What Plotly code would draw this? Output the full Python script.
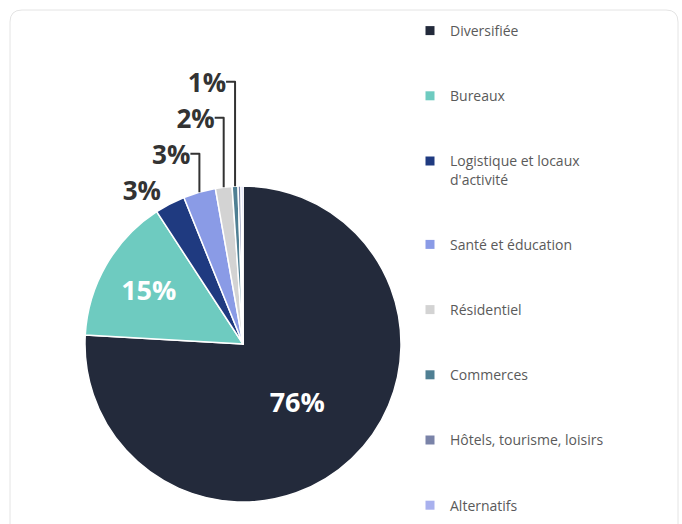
import plotly.graph_objects as go

# ---- data ----
categories = [
    "Diversifiée",
    "Bureaux",
    "Logistique et locaux<br>d'activité",
    "Santé et éducation",
    "Résidentiel",
    "Commerces",
    "Hôtels, tourisme, loisirs",
    "Alternatifs",
]
values = [75.9, 14.9, 3.1, 3.3, 1.7, 0.6, 0.3, 0.2]
colors = ["#232a3b", "#6ecbc0", "#1f3a80", "#8a9be6",
          "#d3d3d3", "#4f7f93", "#7a83a8", "#a9b1ee"]
label_templates = ["%{percent:.0%}"] * 6 + ["", ""]
label_positions = ["inside", "inside", "outside", "outside",
                   "outside", "outside", "none", "none"]

W, H = 682, 524

fig = go.Figure()

fig.add_trace(go.Pie(
    labels=categories,
    values=values,
    sort=False,
    direction="clockwise",
    rotation=0,
    marker=dict(colors=colors, line=dict(color="white", width=1.5)),
    texttemplate=label_templates,
    textposition=label_positions,
    insidetextorientation="horizontal",
    insidetextfont=dict(family="Open Sans", size=27, color="white", weight="bold"),
    outsidetextfont=dict(family="Open Sans", size=26, color="#333333", weight="bold"),
    domain=dict(x=[84 / W, 402 / W], y=[1 - 502 / H, 1 - 186 / H]),
    showlegend=False,
    hoverinfo="skip",
))

# legend entries (one group each so they can be spaced out)
for name, col in zip(categories, colors):
    fig.add_trace(go.Scatter(
        x=[None], y=[None], mode="markers", name=name,
        legendgroup=name,
        marker=dict(symbol="square", size=9, color=col),
        hoverinfo="skip",
    ))

# card outline
x0, x1, yt, yb = 10 / W, 678 / W, 1 - 10 / H, -0.05
rx, ry = 12 / W, 12 / H
card_path = (f"M {x0},{yb} L {x0},{yt - ry} Q {x0},{yt} {x0 + rx},{yt} "
             f"L {x1 - rx},{yt} Q {x1},{yt} {x1},{yt - ry} L {x1},{yb}")

fig.update_layout(
    width=W, height=H,
    margin=dict(l=0, r=0, t=0, b=0),
    paper_bgcolor="white",
    plot_bgcolor="white",
    xaxis=dict(visible=False),
    yaxis=dict(visible=False),
    shapes=[dict(type="path", path=card_path, xref="paper", yref="paper",
                 line=dict(color="#e4e4e4", width=1), layer="below")],
    legend=dict(
        x=410 / W, y=1 - 15 / H, xanchor="left", yanchor="top",
        font=dict(family="Open Sans", size=14, color="#5a5a5a"),
        tracegroupgap=44,
        valign="top",
        bgcolor="rgba(0,0,0,0)",
        itemclick=False, itemdoubleclick=False,
    ),
)

fig.write_html("out.html", config={"displayModeBar": False},
               post_script="document.body.style.margin='0px';")
